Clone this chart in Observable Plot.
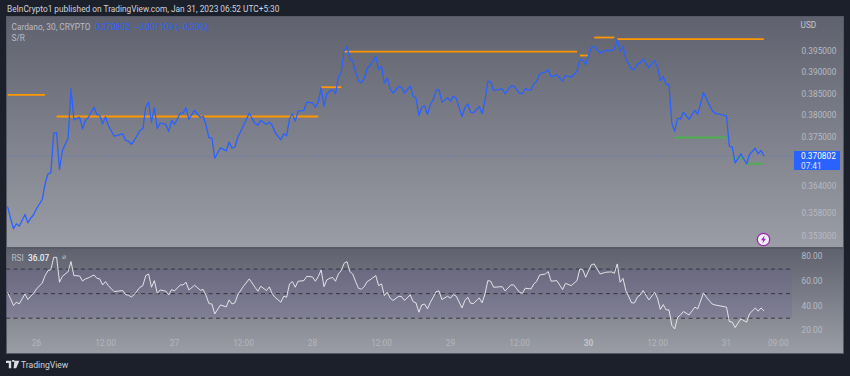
<!DOCTYPE html>
<html>
<head>
<meta charset="utf-8">
<script src="https://cdn.jsdelivr.net/npm/d3@7"></script>
<script src="https://cdn.jsdelivr.net/npm/@observablehq/plot@0.6"></script>
<style>
html,body{margin:0;padding:0;background:#1c202b;}
#chart{position:relative;width:850px;height:376px;overflow:hidden;font-family:Roboto,sans-serif;background:#1c202b;}
#chart svg.plot{position:absolute;left:0;}
.pane{position:absolute;left:6px;width:836px;box-sizing:content-box;border:1px solid #575a66;background:linear-gradient(#5f626e,#9b9da6);}
.t{position:absolute;white-space:nowrap;line-height:1;}
</style>
</head>
<body>
<div id="chart">
  <div class="pane" style="top:16px;height:230px"></div>
  <div class="pane" style="top:248px;height:104px"></div>
  <div class="t" style="left:7px;top:5px;font-size:8.3px;color:#d1d4dc">BeInCrypto1 published on TradingView.com, Jan 31, 2023 06:52 UTC+5:30</div>
  <div class="t" style="left:11.5px;top:23px;font-size:8.3px;color:#b9bbc4">Cardano, 30, CRYPTO</div>
  <div class="t" style="left:95px;top:23px;font-size:8.3px;color:#2962ff">0.370802&nbsp; −0.001109 (−0.30%)</div>
  <div class="t" style="left:11.5px;top:34px;font-size:8.3px;color:#b9bbc4">S/R</div>
  <div class="t" style="left:11.5px;top:254px;font-size:8.3px;color:#b9bbc4">RSI</div>
  <div class="t" style="left:28px;top:254px;font-size:8.3px;font-weight:500;color:#eceef2">36.07</div>
  <div class="t" style="left:62px;top:254px;font-size:7px;color:#b9bbc4">⌀</div>
  <div class="t" style="left:800.5px;top:21px;font-size:8.3px;color:#c3c5cd">USD</div>
  <div style="position:absolute;left:794px;top:151px;width:46px;height:19px;background:#2962ff;"></div>
  <div class="t" style="left:801px;top:152px;font-size:8.3px;color:#fff">0.370802</div>
  <div class="t" style="left:801px;top:161.5px;font-size:8.3px;color:#dfe6ff">07:41</div>
  <svg style="position:absolute;left:756px;top:232px" width="15" height="15" viewBox="0 0 15 15">
    <circle cx="7.5" cy="7.5" r="6.2" fill="#f3eef6" stroke="#9c27b0" stroke-width="1.3"/>
    <path d="M8.6 3.4 5 8.2h2.2L6.4 11.6 10 6.8H7.8z" fill="#9c27b0"/>
  </svg>
  <svg style="position:absolute;left:6px;top:360px" width="14" height="10" viewBox="0 0 14 10">
    <path d="M0 0.8h5.2v7.4H2.8V3H0z M6 0.8a1.2 1.2 0 1 1 0 .01z M8.4.8H13.4L10.2 8.2H7.6z" fill="#d9dce3"/>
  </svg>
  <div class="t" style="left:21px;top:360.5px;font-size:8.6px;color:#d1d4dc">TradingView</div>
</div>
<script>
const candles = [
  -10,-9,-8,-7,-6,-4,-3,-2,-1,0,
  2,3,4,5,6,7,8,9,11,12,
  13,15,16,17,18,20,21,22,23,24,
  25,27,30,31,32,33,34,36,37,38,
  39,40,41,42,43,45,46,47,48,50,
  51,52,53,55,57,58,59,60,61,62,
  64,66,67,68,69,70,72,74,76,77,
  78,80,81,82,83,85,86,87,88,89,
  90,91,93,94,96,97,98,99,100,101,
  102,103,104,105,106,107,108,109,110,111,
  112,113,114,115,116,118,119,120,121,122,
  123,124,126,127,128,130,131,132,133,134,
  135,136,137,138,139,140,141,143,144,145,
  146,148,149,150,151,152,154,155,156,157,
  158,159,162,163,165,166,168,169,170,172,
  173,174,175,177,178,179,181,183,184,186,
  188,189,190,191,193,194,196,198,200,201,
  202,203,204,205,207,208,209,210,211,213,
  215,216,217,218,219,220,221,222,223,224,
  225,227,229,230,232,233,235,236,240,241,
  242,243,245,247,248,250,251,252,253
];
const price = [
  .35938,.35692,.3547,.35578,.35526,.35779,.35599,.35698,.35773,.35904,
  .36107,.36453,.36675,.36697,.376,.376,.36771,.37198,.37477,.3862,
  .37899,.37959,.37692,.37883,.37945,.3819,.38022,.37998,.37807,.37968,
  .37768,.37523,.37578,.37425,.37409,.3734,.37425,.37653,.37692,.3819,
  .38306,.37844,.38176,.37698,.3782,.37791,.3763,.37883,.37791,.38051,
  .38051,.38176,.37912,.38114,.37952,.37982,.37768,.37486,.37486,.37024,
  .37259,.37191,.37386,.37249,.37272,.37493,.37768,.38051,.37813,.37775,
  .37883,.37791,.37844,.37768,.37607,.37441,.37578,.37532,.37922,.38038,
  .37867,.38098,.38114,.38306,.38292,.3819,.38306,.38643,.38207,.38503,
  .38564,.38597,.38503,.38893,.39011,.39529,.39625,.39331,.39273,.39011,
  .38799,.38761,.38869,.39092,.39171,.39385,.39076,.39147,.38751,.38878,
  .3862,.38516,.38674,.38657,.38516,.38681,.38447,.38409,.37998,.3819,
  .38223,.38022,.38253,.3837,.3858,.38604,.38306,.38409,.3833,.38447,
  .384,.37975,.38176,.3827,.38074,.3806,.38207,.38038,.38346,.38799,
  .38775,.3858,.3862,.38503,.3869,.38681,.38516,.38503,.3862,.3858,
  .38738,.38799,.38974,.39011,.39068,.38902,.38945,.38799,.38933,.38893,
  .39035,.39307,.39307,.39195,.39608,.39625,.39464,.39529,.39529,.3957,
  .39787,.39512,.39625,.39331,.39076,.39076,.39211,.39234,.39331,.39115,
  .3929,.3913,.38815,.3891,.38721,.38721,.37807,.37637,.37936,.37912,
  .38074,.37912,.38114,.38022,.38533,.38386,.38114,.38051,.37991,.37289,
  .37272,.36921,.37124,.36899,.37108,.37249,.37124,.37198,.370802
];
const rsi = [
  50.6,45.7,40.3,43.0,41.7,49.8,45.2,47.9,50.3,53.8,
  58.7,64.7,68.7,69.5,79.6,79.6,59.3,64.1,67.9,76.1,
  64.7,64.4,60.3,62,62.8,65.2,62.5,62,57.1,59.8,
  56.5,51.7,52.5,49.2,48.7,47.3,49.2,55.2,56.5,64.7,
  66,55.2,60.6,50.3,53,52,49,53.3,52.2,57.1,
  57.1,59.3,53,56.8,52.8,53.3,48.4,41.9,41.6,33.5,
  40.8,39.2,44.9,41.6,42.5,49,56,62,55.2,52,
  56,52.5,55.5,49.8,47,43,47.9,47.1,57.9,59.8,
  55.2,60.1,60.6,64.1,63.6,60.1,63.9,69.3,55.7,61.2,
  62.5,63.1,60.1,66,68.7,74.7,76.1,67.9,66,59.8,
  54.4,53.6,55.7,59.8,61.2,64.7,56.5,57.9,48.4,51.1,
  46.5,44.4,47.9,47.6,44.4,49,43.5,42.5,34.9,40.8,
  41.6,37.6,43,47.1,51.7,52.2,45.2,47.9,46.3,49.2,
  47.9,38.4,44.4,47.1,42.2,41.9,46.5,42.5,49.8,60.6,
  60.1,55.2,55.7,52.2,57.1,57.1,51.1,50.3,54.4,53.8,
  57.9,60.1,65.2,66,67.9,60.1,60.6,53.3,58.4,56.5,
  60.6,70.1,69.5,63.3,73.6,74.2,66,67.4,67.7,66.6,
  74.2,59.3,62.5,52.5,42.5,42.5,47.1,49,52.5,44.9,
  51.1,46.3,37.1,41.1,36.8,36.8,24.1,21.3,30.8,32.7,
  35.4,32.7,39,37.6,50.6,47.1,41.6,40.8,39,27.3,
  26.8,22.4,29.5,26.8,33.5,38.4,35.7,38.4,36.07
];
const resistance = [
  {from:-10,to:3,level:.38479},
  {from:7,to:98,level:.37975},
  {from:99,to:106,level:.38657},
  {from:107,to:188,level:.395},
  {from:189,to:192,level:.39409},
  {from:194,to:201,level:.39842},
  {from:202,to:253,level:.39801}
];
const support = [
  {from:222,to:240,level:.37493},
  {from:242,to:246,level:.37024},
  {from:247,to:253,level:.36899}
];
const priceTicks = [.353,.358,.364,.375,.38,.385,.39,.395];
const rsiTicks = [20,40,60,80];
const rsiLevels = [30,50,70];
const timeTicks = [0,24,48,72,96,120,144,168,216,240,258];
const timeLabels = ["26","12:00","27","12:00","28","12:00","29","12:00","12:00","31","09:00"];
const boldTick = [192];
const lastPrice = .370802;

const priceRows = candles.map((c,i)=>({c,v:price[i]}));
const rsiRows = candles.map((c,i)=>({c,v:rsi[i]}));
const xDomain = [-10.43,262.96];
const font = {background:"transparent",fontFamily:"Roboto,sans-serif",fontSize:"8.3px",overflow:"visible"};

const pricePlot = Plot.plot({
  width:850,height:248,marginLeft:6,marginRight:58,marginTop:17,marginBottom:0,
  style:font,
  x:{domain:xDomain,axis:null},
  y:{type:"log",domain:[.35047,.4033],axis:null},
  marks:[
    Plot.ruleY([lastPrice],{stroke:"#3a6cf0",strokeWidth:.8,strokeDasharray:"1,1.6",strokeOpacity:.6}),
    Plot.link(resistance,{x1:"from",x2:"to",y1:"level",y2:"level",stroke:"#ff9800",strokeWidth:1.8}),
    Plot.link(support,{x1:"from",x2:"to",y1:"level",y2:"level",stroke:"#4caf50",strokeWidth:1.8}),
    Plot.line(priceRows,{x:"c",y:"v",stroke:"#2962ff",strokeWidth:1.3,curve:"linear"}),
    Plot.axisY({anchor:"right",label:null,ticks:priceTicks,tickFormat:d=>d.toFixed(6),tickSize:0,tickPadding:9,color:"#b8bac2"})
  ]
});
pricePlot.style.top="0px";
pricePlot.classList.add("plot");

const rsiPlot = Plot.plot({
  width:850,height:104,marginLeft:6,marginRight:58,marginTop:0,marginBottom:20,
  style:font,
  x:{domain:xDomain,axis:null},
  y:{domain:[17.56,85.94],axis:null},
  marks:[
    Plot.rectY([{a:30,b:70}],{y1:"a",y2:"b",fill:"#6a5a9a",fillOpacity:.22}),
    Plot.ruleY(rsiLevels,{stroke:"#36363f",strokeWidth:1,strokeDasharray:"4,3.5"}),
    Plot.line(rsiRows,{x:"c",y:"v",stroke:"#eeeef2",strokeWidth:.9,curve:"linear"}),
    Plot.axisY({anchor:"right",label:null,ticks:rsiTicks,tickFormat:d=>d.toFixed(2),tickSize:0,tickPadding:9,color:"#b8bac2"}),
    Plot.axisX({label:null,ticks:timeTicks,tickFormat:d=>timeLabels[timeTicks.indexOf(d)],tickSize:0,tickPadding:7,color:"#b4b6be"}),
    Plot.axisX({label:null,ticks:boldTick,tickFormat:()=>"30",tickSize:0,tickPadding:7,color:"#c4c6cd",fontWeight:"bold"})
  ]
});
rsiPlot.style.top="249px";
rsiPlot.classList.add("plot");

const root=document.getElementById("chart");
root.insertBefore(rsiPlot,root.children[2]);
root.insertBefore(pricePlot,root.children[2]);
</script>
</body>
</html>
